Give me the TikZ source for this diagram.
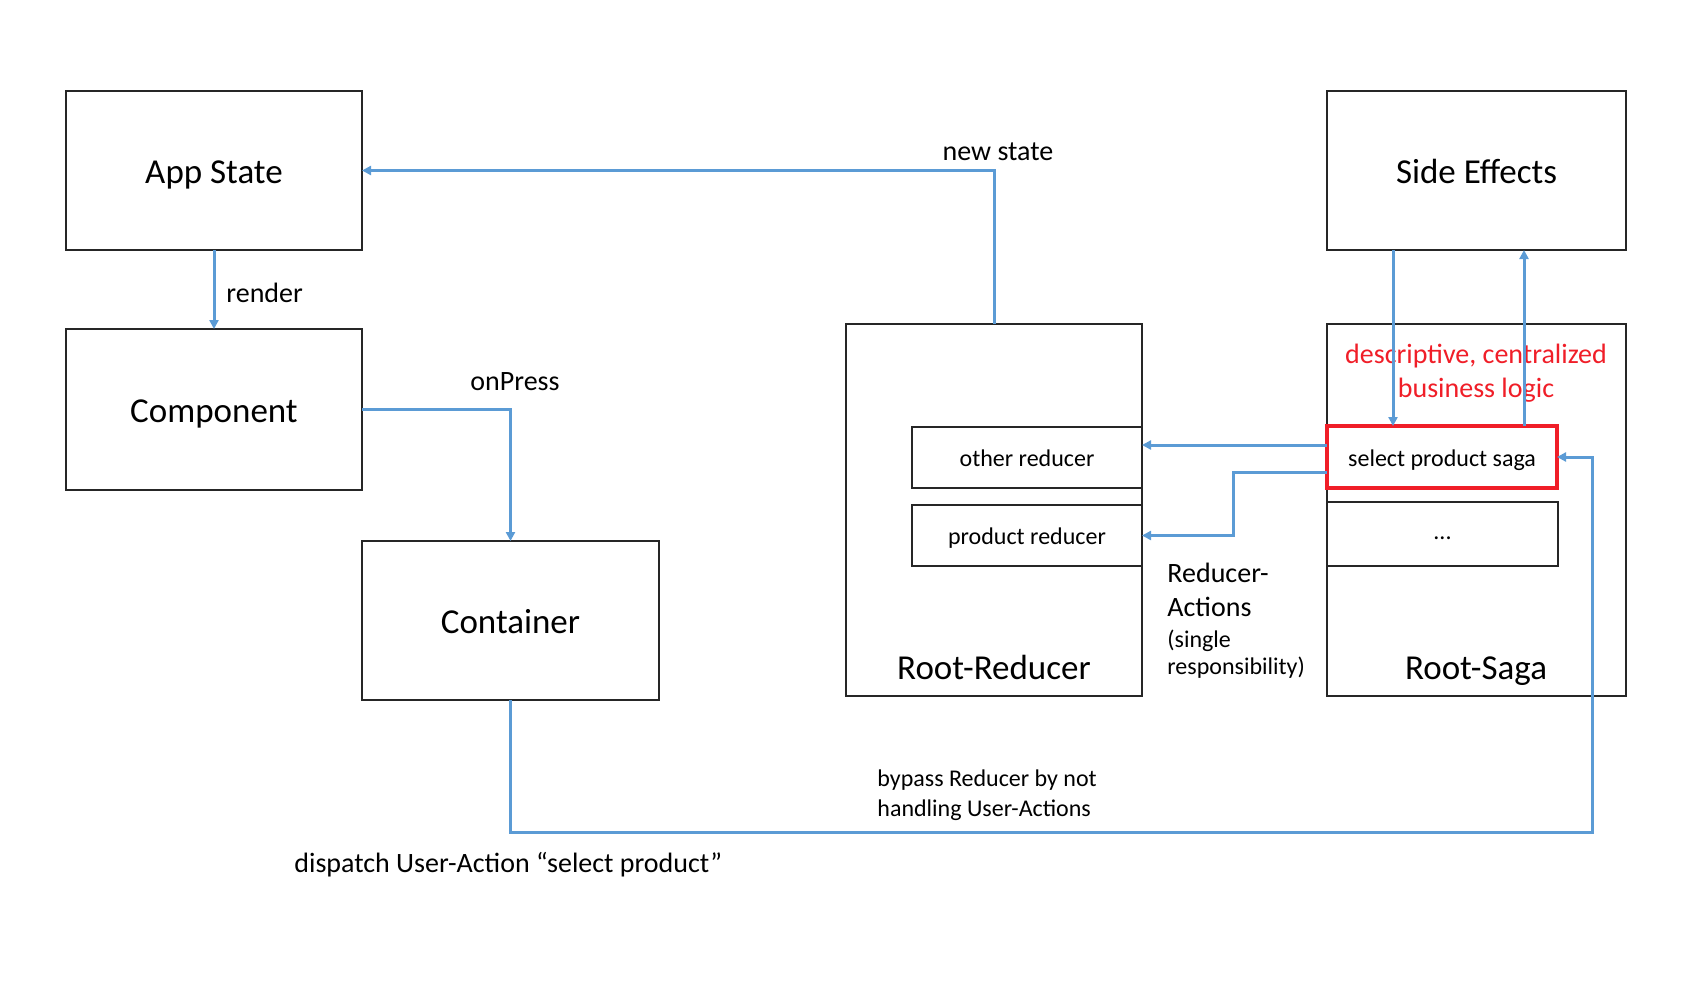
\documentclass[tikz,border=0pt]{standalone}
\usepackage{fontspec}
\setmainfont{Carlito}
\usetikzlibrary{arrows.meta,calc}
\definecolor{lblue}{RGB}{91,155,213}
\definecolor{sagared}{RGB}{240,30,40}
\tikzset{
  box/.style={draw=black!85, line width=1pt, inner sep=0pt, outer sep=0pt, fill=white},
  bigtxt/.style={font=\fontsize{17.5}{21}\selectfont},
  bigbox/.style={box, bigtxt, text height=13pt, text depth=0pt},
  smalltxt/.style={font=\fontsize{12}{14}\selectfont},
  smallbox/.style={box, smalltxt, text height=9pt, text depth=0pt},
  lbl/.style={font=\fontsize{14}{17}\selectfont, inner sep=0pt},
  arr/.style={draw=lblue, line width=1.5pt, -{Triangle[length=4.5pt,width=4.5pt]}},
}
\begin{document}
\begin{tikzpicture}[x=0.5pt,y=-0.5pt]
\useasboundingbox (0,0) rectangle (1700,980);

% boxes
\node[bigbox,minimum width=148pt,minimum height=79.5pt] (appstate) at (214,170.5) {App State};
\node[bigbox,minimum width=148pt,minimum height=80.5pt] (component) at (214,409.5) {Component};
\node[bigbox,minimum width=148.5pt,minimum height=79.5pt] (container) at (510.5,620.5) {Container};
\node[box,minimum width=148pt,minimum height=186pt] (rootreducer) at (994,510) {};
\node[smallbox,minimum width=115pt,minimum height=30.5pt] (other) at (1027,457.5) {other reducer};
\node[smallbox,minimum width=115pt,minimum height=30.5pt] (product) at (1027,535.5) {product reducer};
\node[bigtxt,inner sep=0pt,anchor=base] (rrlabel) at (994,679) {Root-Reducer};

\node[bigbox,minimum width=149.5pt,minimum height=79.5pt] (sideeffects) at (1476.5,170.5) {Side Effects};
\node[box,minimum width=149.5pt,minimum height=186pt] (rootsaga) at (1476.5,510) {};
\node[smallbox,text height=5pt,minimum width=115.5pt,minimum height=32pt] (dots) at (1442.5,534) {...};
\node[bigtxt,inner sep=0pt,anchor=base] (rslabel) at (1476,679) {Root-Saga};
\node[lbl,text=sagared,align=center] (redtxt) at (1476,373) {descriptive, centralized\\business logic};
\node[smallbox,draw=sagared,line width=2pt,minimum width=115pt,minimum height=31pt,fill=none] (saga) at (1442,457) {select product saga};

% connectors
\draw[arr] (rootreducer.north) |- (appstate.east);
\node[lbl] (newstate) at (998,152) {new state};

\draw[arr] (appstate.south) -- (component.north);
\node[lbl,anchor=west] (render) at (226,293) {render};

\draw[arr] (component.east) -| (container.north);
\node[lbl] (onpress) at (515,382) {onPress};

\coordinate (d1) at (510.5,832);
\coordinate (d2) at (1592,832);
\draw[arr] (container.south) -- (d1) -- (d2) |- (saga.east);
\node[lbl,anchor=west] (dispatch) at (294,865) {dispatch User-Action “select product”};
\node[anchor=west,align=left,inner sep=0pt,font=\fontsize{12}{15}\selectfont] (bypass) at (877,795) {bypass Reducer by not\\handling User-Actions};

\draw[arr] ([yshift=6pt]saga.west) -- ([yshift=6pt]saga.west -| other.east);
\coordinate (k) at (1233,500);
\draw[arr] ([yshift=-7.5pt]saga.west) -| (k) |- (product.east);

\node[lbl,anchor=north west,align=left] (ra) at (1167,563) {Reducer-\\Actions};
\node[anchor=north west,align=left,inner sep=0pt,font=\fontsize{12}{13.5}\selectfont] (sr) at (1167,630) {(single\\responsibility)};

\coordinate (sx1) at (1393,0);
\coordinate (sx2) at (1524,0);
\draw[arr] (sideeffects.south -| sx1) -- (saga.north -| sx1);
\draw[arr] (saga.north -| sx2) -- (sideeffects.south -| sx2);
\end{tikzpicture}
\end{document}
